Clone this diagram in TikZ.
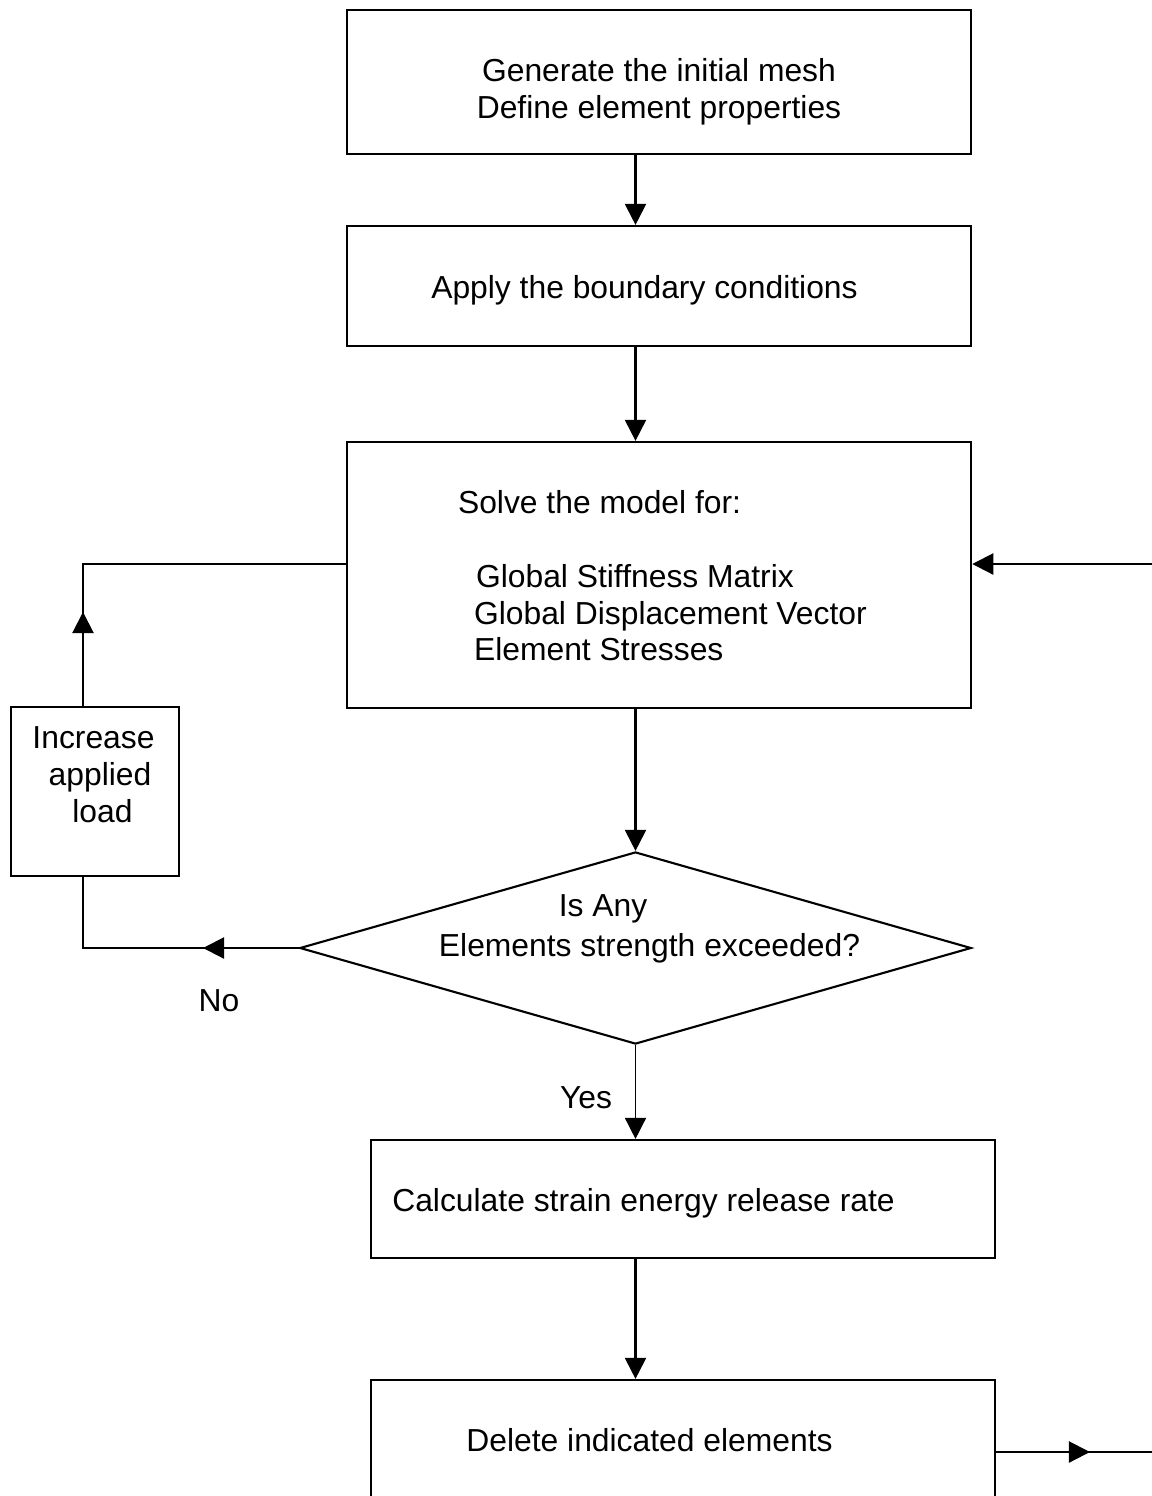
\documentclass[tikz,border=0pt]{standalone}
\usepackage{fontspec}
\setmainfont{Liberation Sans}
\usetikzlibrary{arrows.meta,shapes.geometric}
\begin{document}
\begin{tikzpicture}[x=0.01cm,y=-0.01cm,line width=0.6pt,
  box/.style={draw,rectangle,inner sep=0pt},
  txt/.style={inner sep=0pt,font=\fontsize{9.05}{10.5}\selectfont,anchor=base},
  ltxt/.style={txt,anchor=base west},
  arr/.style={-{Triangle[length=6pt,width=6pt]}}]
\clip (0,0) rectangle (1152,1496);
% boxes
\node[box,minimum width=6.24cm,minimum height=1.44cm] (b1) at (659,82) {};
\node[box,minimum width=6.24cm,minimum height=1.20cm] (b2) at (659,286) {};
\node[box,minimum width=6.24cm,minimum height=2.66cm] (b3) at (659,575) {};
\node[box,minimum width=1.68cm,minimum height=1.69cm] (b6) at (95,791.5) {};
\node[draw,diamond,inner sep=0pt,minimum width=6.71cm,minimum height=1.92cm] (d) at (635.5,948) {};
\node[box,minimum width=6.24cm,minimum height=1.18cm] (b4) at (683,1199) {};
\node[box,minimum width=6.24cm,minimum height=1.80cm] (b5) at (683,1470) {};
% texts
\node[txt] (t1a) at (659,81) {Generate the initial mesh};
\node[txt] (t1b) at (659,118) {Define element properties};
\node[txt] (t2) at (644.5,298) {Apply the boundary conditions};
\node[ltxt] (t3a) at (457,513) {Solve the model for:};
\node[ltxt] (t3b) at (475,587) {Global Stiffness Matrix};
\node[ltxt] (t3c) at (473,624) {Global Displacement Vector};
\node[ltxt] (t3d) at (473,660) {Element Stresses};
\node[txt] (t6a) at (93.5,748) {Increase};
\node[txt] (t6b) at (100,785) {applied};
\node[txt] (t6c) at (102.5,822) {load};
\node[txt] (tda) at (603,916) {Is Any};
\node[txt] (tdb) at (649.5,956) {Elements strength exceeded?};
\node[txt] (tno) at (219,1011) {No};
\node[txt] (tyes) at (586,1108) {Yes};
\node[txt] (t4) at (643.5,1211) {Calculate strain energy release rate};
\node[txt] (t5) at (649.5,1451) {Delete indicated elements};
% coordinates
\coordinate (c1) at (83,948);
\coordinate (c2) at (83,564);
\coordinate (m1) at (203,948);
\coordinate (m2) at (83,612);
\coordinate (r1) at (1152,564);
\coordinate (r2) at (1152,1452);
\coordinate (m3) at (1090,1452);
% connectors
\draw[arr] (b1.south -| d.north) -- (b2.north -| d.north);
\draw[arr] (b2.south -| d.north) -- (b3.north -| d.north);
\draw[arr] (b3.south -| d.north) -- (d.north);
\draw[arr,line width=0.45pt] (d.south) -- (b4.north -| d.south);
\draw[arr] (b4.south -| d.north) -- (b5.north -| d.north);
\draw (d.west) -- (c1) -- (c1 |- b6.south);
\draw[arr] (d.west) -- (m1);
\draw (c2 |- b6.north) -- (c2) -- (b3.west |- c2);
\draw[arr] (c2 |- b6.north) -- (m2);
\draw[arr] (r1) -- (b3.east |- r1);
\draw (b5.east |- r2) -- (r2);
\draw[arr] (b5.east |- r2) -- (m3);
\end{tikzpicture}
\end{document}
